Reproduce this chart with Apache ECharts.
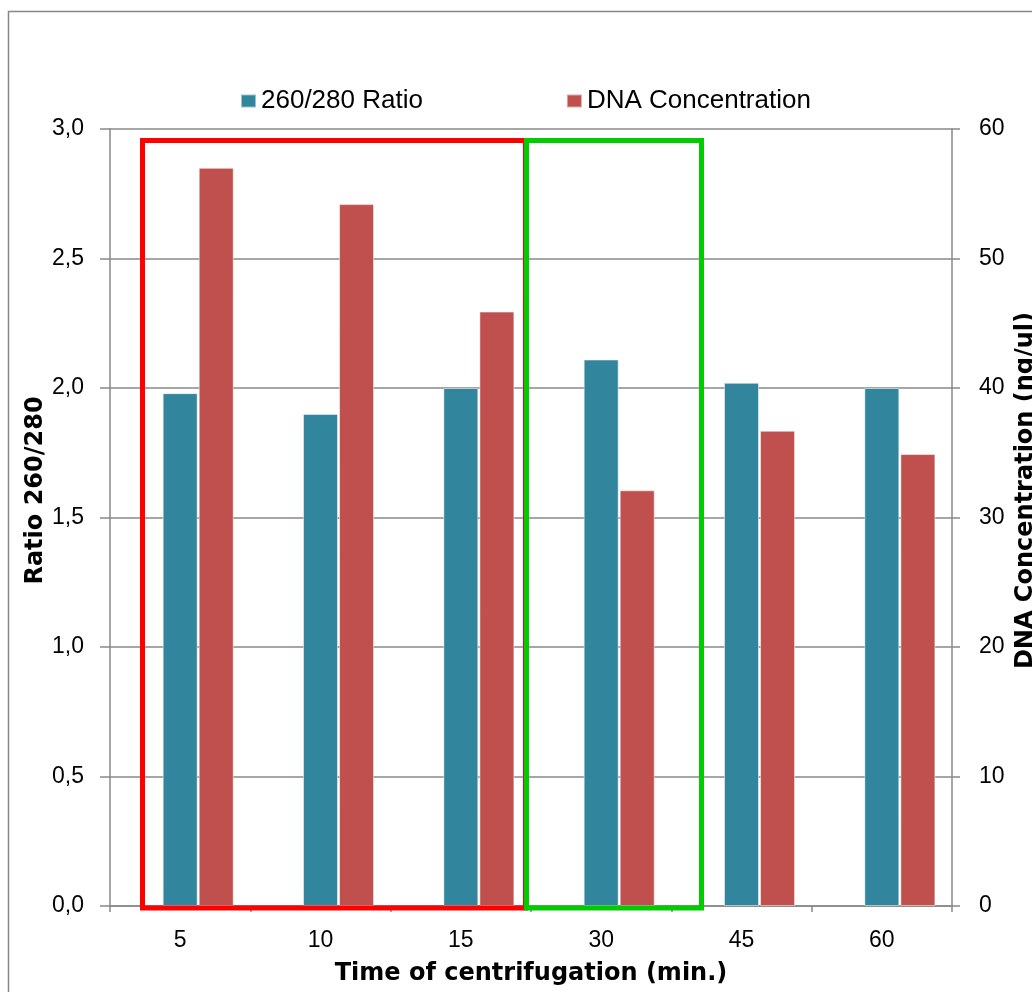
<!DOCTYPE html>
<html>
<head>
<meta charset="utf-8">
<script src="https://cdn.jsdelivr.net/npm/echarts@6/dist/echarts.min.js"></script>
<style>
  html, body { margin: 0; padding: 0; background: #fff; }
  #chart { width: 1032px; height: 992px; }
</style>
</head>
<body>
<div id="chart"></div>
<script>
// centrifugation time (min.)
const categories = ['5', '10', '15', '30', '45', '60'];
// 260/280 ratio, left axis
const ratioValues = [1.98, 1.90, 2.00, 2.11, 2.02, 2.00];
// DNA concentration (ng/ul), right axis
const dnaValues = [57.0, 54.2, 45.9, 32.1, 36.7, 34.9];

const gray = '#888888';
const tickFont = { color: '#000', fontFamily: 'Liberation Sans', fontSize: 23 };
const titleFont = { color: '#000', fontFamily: 'DejaVu Sans', fontWeight: 'bold', fontSize: 24 };

const chart = echarts.init(document.getElementById('chart'));

const option = {
  animation: false,
  backgroundColor: '#fff',
  grid: { left: 110, right: 80, top: 129, bottom: 86, outerBoundsMode: 'none', containLabel: false },
  legend: {
    left: 240,
    top: 88,
    padding: 0,
    itemWidth: 15,
    itemHeight: 13,
    itemGap: 143,
    icon: 'rect',
    data: ['260/280 Ratio', 'DNA Concentration'],
    textStyle: { color: '#000', fontFamily: 'Liberation Sans', fontSize: 26 }
  },
  xAxis: {
    type: 'category',
    data: categories,
    name: 'Time of centrifugation (min.)',
    nameLocation: 'middle',
    nameGap: 56,
    nameMoveOverlap: false,
    nameTextStyle: titleFont,
    axisLine: { lineStyle: { color: gray, width: 1.5 } },
    axisTick: { show: true, length: 6, lineStyle: { color: gray, width: 1.5 } },
    axisLabel: Object.assign({ margin: 23 }, tickFont)
  },
  yAxis: [
    {
      type: 'value',
      min: 0,
      max: 3,
      interval: 0.5,
      name: 'Ratio 260/280',
      nameLocation: 'middle',
      nameRotate: 90,
      nameGap: 62,
      nameMoveOverlap: false,
      nameTextStyle: Object.assign({ padding: [0, 0, 0, 54] }, titleFont),
      axisLine: { show: true, lineStyle: { color: gray, width: 1.5 } },
      axisTick: { show: true, length: 10, lineStyle: { color: gray, width: 1.5 } },
      axisLabel: Object.assign({
        margin: 26,
        formatter: v => v.toFixed(1).replace('.', ',')
      }, tickFont),
      splitLine: { show: true, lineStyle: { color: gray, width: 1.5 } }
    },
    {
      type: 'value',
      min: 0,
      max: 60,
      interval: 10,
      position: 'right',
      name: 'DNA Concentration (ng/ul)',
      nameLocation: 'middle',
      nameRotate: 90,
      nameGap: 62,
      nameMoveOverlap: false,
      nameTextStyle: Object.assign({ padding: [0, 0, 0, 54] }, titleFont),
      axisLine: { show: true, lineStyle: { color: gray, width: 1.5 } },
      axisTick: { show: true, length: 8, lineStyle: { color: gray, width: 1.5 } },
      axisLabel: Object.assign({ margin: 27 }, tickFont),
      splitLine: { show: false }
    }
  ],
  series: [
    {
      // empty slot series, keeps the Excel-like offset of the bar pair
      name: 'blank',
      type: 'bar',
      barWidth: 35,
      data: []
    },
    {
      name: '260/280 Ratio',
      type: 'bar',
      barWidth: 35,
      data: ratioValues,
      itemStyle: { color: '#31859C', borderColor: 'rgba(255,255,255,0.5)', borderWidth: 1 }
    },
    {
      name: 'DNA Concentration',
      type: 'bar',
      yAxisIndex: 1,
      barWidth: 35,
      barGap: '3%',
      data: dnaValues,
      itemStyle: { color: '#C0504D', borderColor: 'rgba(255,255,255,0.5)', borderWidth: 1 }
    }
  ],
  graphic: [
    {
      type: 'rect',
      silent: true,
      z: 0,
      shape: { x: 8.5, y: 11.5, width: 2000, height: 2000 },
      style: { fill: null, stroke: gray, lineWidth: 1.5 }
    },
    {
      type: 'rect',
      silent: true,
      z: 100,
      shape: { x: 142.5, y: 140.5, width: 383, height: 767.5 },
      style: { fill: null, stroke: '#ff0000', lineWidth: 5 }
    },
    {
      type: 'rect',
      silent: true,
      z: 101,
      shape: { x: 526.5, y: 140.5, width: 175, height: 767.5 },
      style: { fill: null, stroke: '#00cc00', lineWidth: 5 }
    }
  ]
};

chart.setOption(option);
</script>
</body>
</html>
